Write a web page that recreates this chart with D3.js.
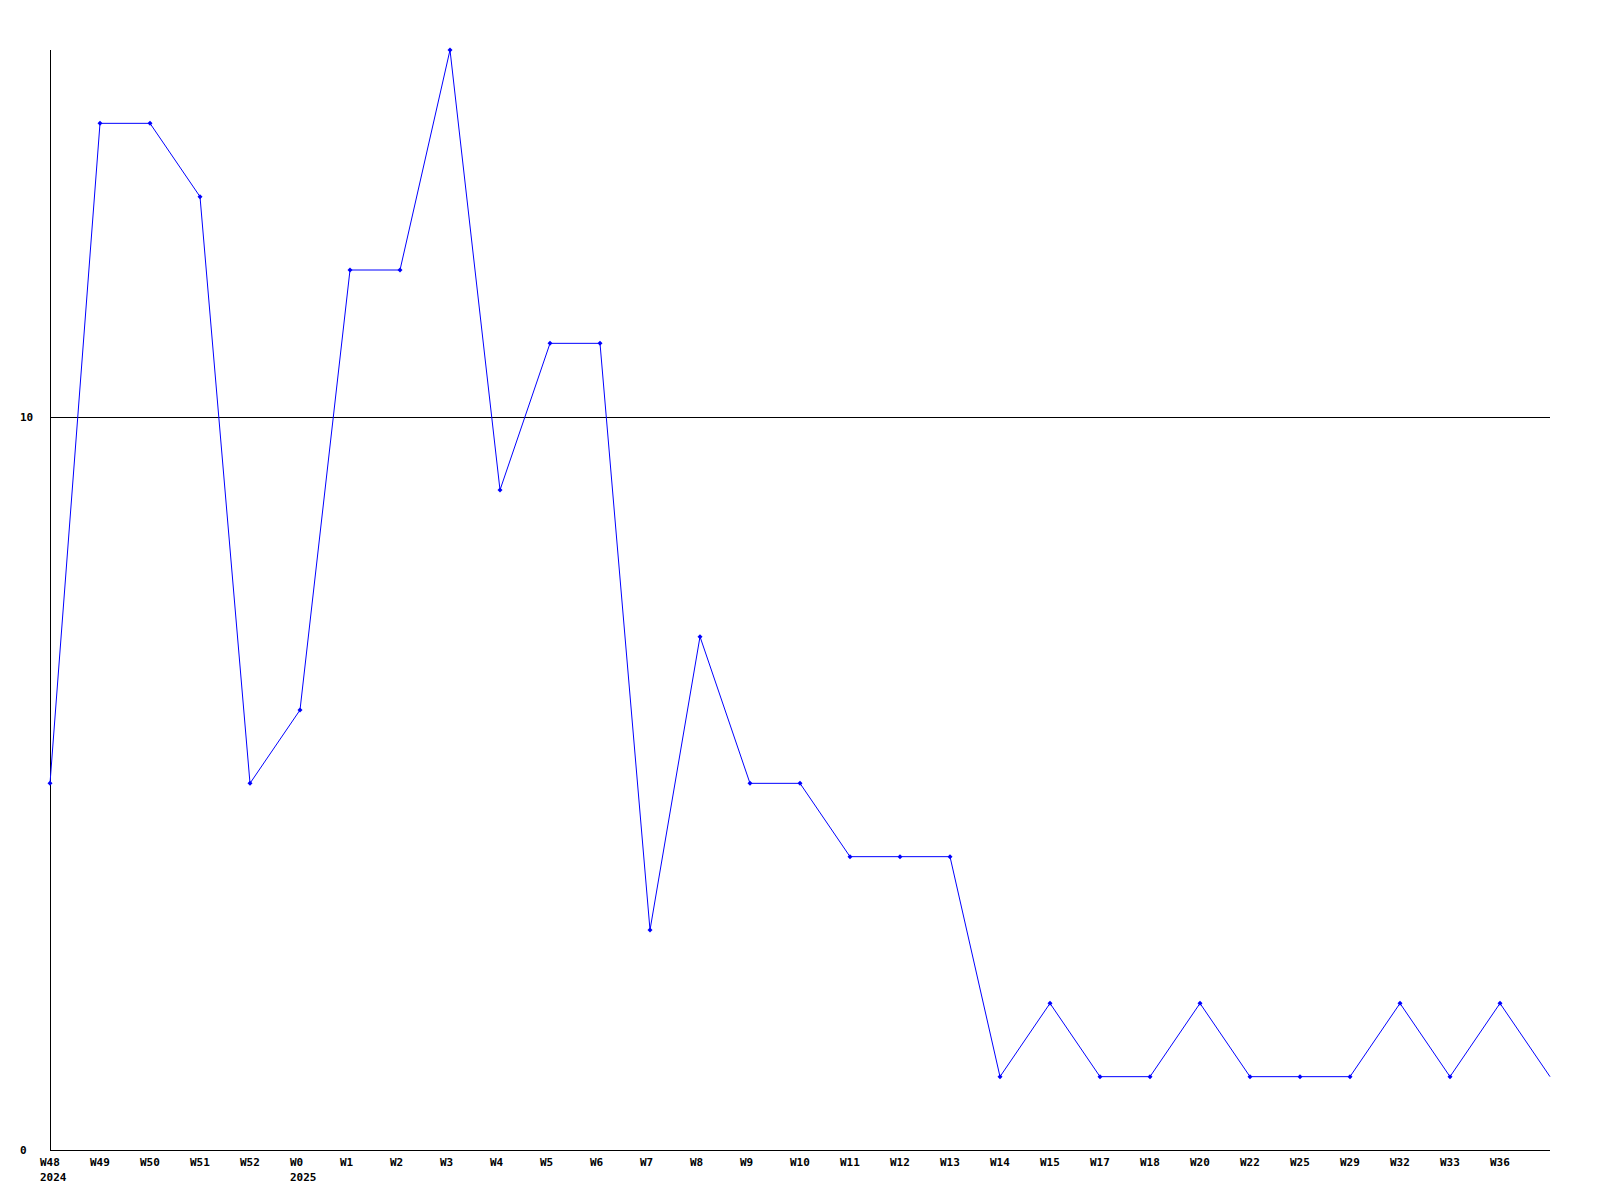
<!DOCTYPE html>
<html lang="en">
    <head>
        <meta charset="utf-8">
        <title>D3</title>
        <script type="text/javascript" src="https://cdnjs.cloudflare.com/ajax/libs/d3/7.8.5/d3.min.js"></script>
        <style type="text/css">
            body { margin: 0; background: #fff; }
            text { font-family: "DejaVu Sans Mono", "Liberation Mono", monospace; font-weight: bold; font-size: 11px; }
        </style>
    </head>
    <body>
        <script type="text/javascript">
            var w = 1600;
            var h = 1200;

            // x categories (weeks), second line of label, and values
            var weeks = ["W48", "W49", "W50", "W51", "W52", "W0", "W1", "W2", "W3", "W4",
                         "W5", "W6", "W7", "W8", "W9", "W10", "W11", "W12", "W13", "W14",
                         "W15", "W17", "W18", "W20", "W22", "W25", "W29", "W32", "W33", "W36", ""];
            var years = ["2024", "", "", "", "", "2025", "", "", "", "",
                         "", "", "", "", "", "", "", "", "", "",
                         "", "", "", "", "", "", "", "", "", "", ""];
            var values = [5, 14, 14, 13, 5, 6, 12, 12, 15, 9,
                          11, 11, 3, 7, 5, 5, 4, 4, 4, 1,
                          2, 1, 1, 2, 1, 1, 1, 2, 1, 2, 1];
            var yTicks = [0, 10];

            var mLeft = 50, mRight = 1550, mTop = 50, mBottom = 1150;

            var x = d3.scaleLinear()
                      .domain([0, weeks.length - 1])
                      .range([mLeft, mRight]);
            var y = d3.scaleLinear()
                      .domain([0, 15])
                      .range([mBottom, mTop]);

            var svg = d3.select("body")
                        .append("svg")
                        .attr("width", w)
                        .attr("height", h);

            // grid line at 10
            svg.selectAll("line.grid")
               .data(yTicks.filter(function(d) { return d > 0; }))
               .enter()
               .append("line")
               .attr("class", "grid")
               .attr("x1", mLeft)
               .attr("x2", mRight)
               .attr("y1", function(d) { return Math.round(y(d)) + 0.5; })
               .attr("y2", function(d) { return Math.round(y(d)) + 0.5; })
               .attr("stroke", "black")
               .attr("stroke-width", 1);

            // axes lines
            svg.append("line")
               .attr("x1", mLeft + 0.5).attr("x2", mLeft + 0.5)
               .attr("y1", mTop).attr("y2", mBottom)
               .attr("stroke", "black");
            svg.append("line")
               .attr("x1", mLeft).attr("x2", mRight)
               .attr("y1", mBottom + 0.5).attr("y2", mBottom + 0.5)
               .attr("stroke", "black");

            // y labels
            svg.selectAll("text.ylab")
               .data(yTicks)
               .enter()
               .append("text")
               .attr("class", "ylab")
               .attr("x", 20)
               .attr("y", function(d) { return y(d) + 4; })
               .text(function(d) { return d; });

            // x labels
            svg.selectAll("text.xlab")
               .data(weeks)
               .enter()
               .append("text")
               .attr("class", "xlab")
               .attr("x", function(d, i) { return x(i) - 10; })
               .attr("y", 1166)
               .text(function(d) { return d; });

            svg.selectAll("text.year")
               .data(years)
               .enter()
               .append("text")
               .attr("class", "year")
               .attr("x", function(d, i) { return x(i) - 10; })
               .attr("y", 1181)
               .text(function(d) { return d; });

            // line
            var line = d3.line()
                         .x(function(d, i) { return x(i); })
                         .y(function(d) { return y(d); });

            svg.append("path")
               .datum(values)
               .attr("d", line)
               .attr("fill", "none")
               .attr("stroke", "blue")
               .attr("stroke-width", 1);

            // markers
            svg.selectAll("path.marker")
               .data(values.slice(0, values.length - 1))
               .enter()
               .append("path")
               .attr("class", "marker")
               .attr("d", function(d, i) {
                   var cx = x(i), cy = y(d);
                   return "M" + (cx - 2.5) + "," + cy + "L" + cx + "," + (cy - 2.5) +
                          "L" + (cx + 2.5) + "," + cy + "L" + cx + "," + (cy + 2.5) + "Z";
               })
               .attr("fill", "blue");
        </script>
    </body>
</html>
